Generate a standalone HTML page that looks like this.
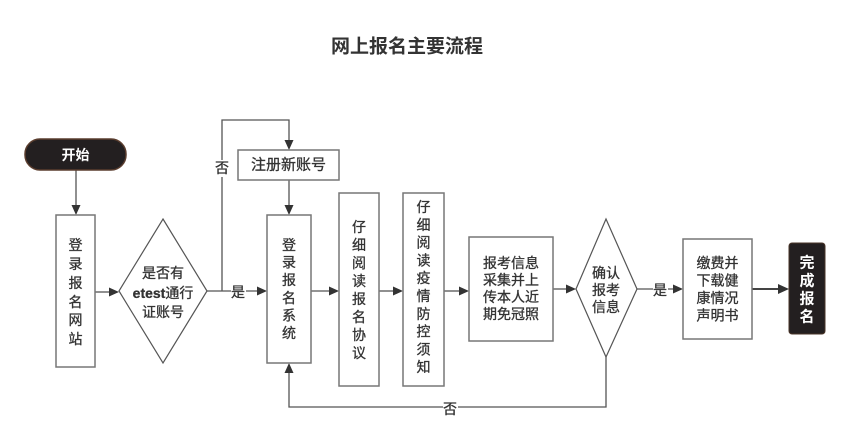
<!DOCTYPE html>
<html><head><meta charset="utf-8"><style>
html,body{margin:0;padding:0;background:#fff;}
svg{display:block;}
text{font-family:"Liberation Sans","Noto Sans CJK SC",sans-serif;fill:#333;}
.b text, text.b{stroke:#333;stroke-width:0.3;}
</style></head><body>
<svg width="850" height="431" viewBox="0 0 850 431" xmlns="http://www.w3.org/2000/svg">
<rect width="850" height="431" fill="#fff"/>
<text x="407" y="47" font-size="19" font-weight="bold" text-anchor="middle" dominant-baseline="central">网上报名主要流程</text>

<g stroke="#555" stroke-width="1.3" fill="none">
  <line x1="76" y1="170" x2="76" y2="206"/>
  <line x1="95" y1="292" x2="110" y2="292"/>
  <line x1="207" y1="291" x2="258" y2="291"/>
  <polyline points="222,291 222,120 289,120 289,141"/>
  <line x1="289" y1="180" x2="289" y2="206"/>
  <line x1="311" y1="291" x2="330" y2="291"/>
  <line x1="379" y1="291" x2="394" y2="291"/>
  <line x1="444" y1="291" x2="460" y2="291"/>
  <line x1="553" y1="289" x2="567" y2="289"/>
  <line x1="637" y1="289" x2="674" y2="289"/>
  <polyline points="606,357 606,407 289,407 289,372"/>
</g>
<line x1="752" y1="289" x2="780" y2="289" stroke="#444" stroke-width="2"/>

<g fill="#333">
  <polygon points="76,215 71.5,205 80.5,205"/>
  <polygon points="119,292 109,287.5 109,296.5"/>
  <polygon points="267,291 257,286.5 257,295.5"/>
  <polygon points="289,150 284.5,140 293.5,140"/>
  <polygon points="289,215 284.5,205 293.5,205"/>
  <polygon points="339,291 329,286.5 329,295.5"/>
  <polygon points="403,291 393,286.5 393,295.5"/>
  <polygon points="469,291 459,286.5 459,295.5"/>
  <polygon points="576,289 566,284.5 566,293.5"/>
  <polygon points="683,289 673,284.5 673,293.5"/>
  <polygon points="789,289 778,284 778,294"/>
  <polygon points="289,363 284.5,373 293.5,373"/>
</g>

<rect x="25" y="139" width="101" height="31" rx="15" fill="#231f20" stroke="#5a3d2e" stroke-width="1.5"/>
<text x="75.5" y="155" font-size="14" font-weight="bold" text-anchor="middle" dominant-baseline="central" style="fill:#fff">开始</text>

<g fill="#fff" stroke="#777" stroke-width="1.5">
  <rect x="56" y="215" width="39" height="152"/>
  <polygon points="163,219 207,291 163,363 119,291" stroke="#555" stroke-width="1.2"/>
  <rect x="238" y="150" width="101" height="30"/>
  <rect x="267" y="215" width="44" height="148"/>
  <rect x="339" y="193" width="40" height="193"/>
  <rect x="403" y="193" width="41" height="193"/>
  <rect x="469" y="237" width="84" height="104"/>
  <polygon points="606,219 637,289 606,357 576,289" stroke="#555" stroke-width="1.2"/>
  <rect x="683" y="239" width="69" height="100"/>
</g>
<rect x="789" y="243" width="36" height="91" rx="3" fill="#231f20" stroke="#4a3428" stroke-width="1"/>

<rect x="214" y="160" width="16" height="17" fill="#fff"/>
<text class="b" x="222" y="168" font-size="14" text-anchor="middle" dominant-baseline="central">否</text>
<rect x="231" y="283" width="15" height="17" fill="#fff"/>
<text class="b" x="238" y="292" font-size="14" text-anchor="middle" dominant-baseline="central">是</text>
<rect x="653" y="281" width="15" height="17" fill="#fff"/>
<text class="b" x="660" y="290" font-size="14" text-anchor="middle" dominant-baseline="central">是</text>
<rect x="443" y="401" width="15" height="17" fill="#fff"/>
<text class="b" x="450" y="409" font-size="14" text-anchor="middle" dominant-baseline="central">否</text>

<g class="b" font-size="14" text-anchor="middle" dominant-baseline="central">
  <text x="75.5" y="245">登</text><text x="75.5" y="264">录</text><text x="75.5" y="283">报</text>
  <text x="75.5" y="302">名</text><text x="75.5" y="320">网</text><text x="75.5" y="339">站</text>
  <text x="163" y="273">是否有</text>
  <text x="163" y="293"><tspan font-weight="bold">etest</tspan>通行</text>
  <text x="163" y="312">证账号</text>
  <text x="288.5" y="165" font-size="15">注册新账号</text>
  <text x="289" y="245">登</text><text x="289" y="262.6">录</text><text x="289" y="280.2">报</text>
  <text x="289" y="297.8">名</text><text x="289" y="315.4">系</text><text x="289" y="333">统</text>
  <text x="359" y="227">仔</text><text x="359" y="245">细</text><text x="359" y="263">阅</text>
  <text x="359" y="281">读</text><text x="359" y="299">报</text><text x="359" y="317">名</text>
  <text x="359" y="335">协</text><text x="359" y="353">议</text>
  <text x="423.5" y="207">仔</text><text x="423.5" y="224.8">细</text><text x="423.5" y="242.6">阅</text>
  <text x="423.5" y="260.4">读</text><text x="423.5" y="278.2">疫</text><text x="423.5" y="296">情</text>
  <text x="423.5" y="313.8">防</text><text x="423.5" y="331.6">控</text><text x="423.5" y="349.4">须</text>
  <text x="423.5" y="367.2">知</text>
  <text x="511" y="263">报考信息</text>
  <text x="511" y="280">采集并上</text>
  <text x="511" y="297">传本人近</text>
  <text x="511" y="314">期免冠照</text>
  <text x="606" y="273">确认</text>
  <text x="606" y="290">报考</text>
  <text x="606" y="307">信息</text>
  <text x="717.5" y="263">缴费并</text>
  <text x="717.5" y="280.5">下载健</text>
  <text x="717.5" y="298">康情况</text>
  <text x="717.5" y="315.5">声明书</text>
</g>
<g font-weight="bold" font-size="15" text-anchor="middle" dominant-baseline="central">
  <text x="807" y="263" style="fill:#fff">完</text>
  <text x="807" y="281" style="fill:#fff">成</text>
  <text x="807" y="299" style="fill:#fff">报</text>
  <text x="807" y="317" style="fill:#fff">名</text>
</g>
</svg>
</body></html>
